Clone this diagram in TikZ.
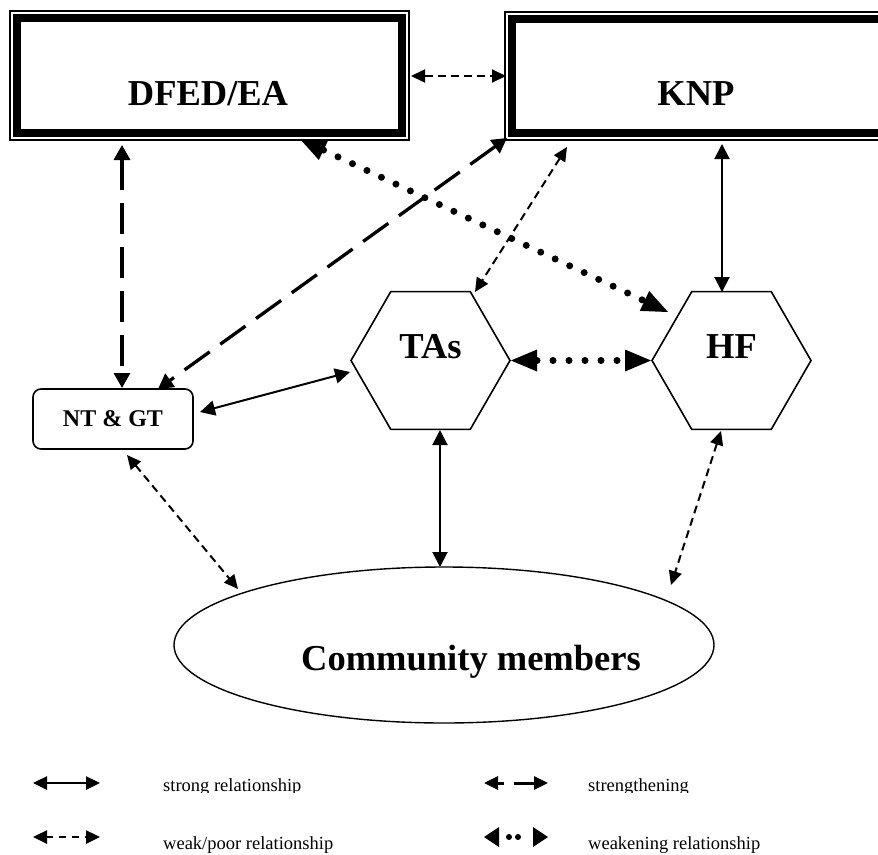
\documentclass[tikz,border=0pt]{standalone}
\usepackage{fontspec}
\setmainfont{Liberation Serif}
\usetikzlibrary{arrows.meta,shapes.geometric,backgrounds}

\tikzset{
  big/.style={font=\fontsize{36.5}{40}\selectfont\bfseries, inner sep=0pt, anchor=base},
  orgbox/.style={draw, line width=8pt, fill=white, inner sep=0pt, outer sep=0pt},
  hexa/.style={draw, line width=1.6pt, fill=white, regular polygon, regular polygon sides=6,
               minimum size=159pt, inner sep=0pt, outer sep=0pt},
  legtext/.style={font=\fontsize{18.5}{21}\selectfont, inner sep=0pt, anchor=base west},
  strong/.style={line width=2pt,
    {Triangle[length=15pt,width=15pt]}-{Triangle[length=15pt,width=15pt]}},
  weak/.style={line width=2pt, dash pattern=on 8pt off 5pt,
    {Triangle[length=14pt,width=13pt]}-{Triangle[length=14pt,width=13pt]}},
  strengthen/.style={line width=3.3pt, dash pattern=on 31pt off 13pt,
    {Triangle[length=15pt,width=16pt]}-{Triangle[length=15pt,width=16pt]}},
  weaken/.style={line width=7pt, line cap=round, dash pattern=on 0pt off 16pt,
    {Triangle[length=26pt,width=22pt,line width=0pt]}-{Triangle[length=26pt,width=22pt,line width=0pt]}},
  keytip/.style={{Triangle[length=14pt,width=13pt]}-{Triangle[length=14pt,width=13pt]}},
}

\begin{document}
\begin{tikzpicture}[x=1pt,y=-1pt]
\useasboundingbox (0,0) rectangle (878,854);
\clip (0,0) rectangle (878,854);

% organisations: thick frame with a thin outer rule
\node[orgbox, minimum width=385pt, minimum height=115pt] (dfed) at (209.5,75.5) {};
\draw[line width=1.2pt] ([shift={(-7,-7)}]dfed.north west) rectangle ([shift={(7,7)}]dfed.south east);
\node[orgbox, minimum width=373pt, minimum height=114pt] (knp) at (698.5,76) {};
\draw[line width=1.2pt] ([shift={(-7,-7)}]knp.north west) rectangle ([shift={(7,7)}]knp.south east);
\node[big] (dfedtxt) at (208,105) {DFED/EA};
\node[big] (knptxt) at (696,105) {KNP};

% local actors
\node[hexa] (tas) at (430.5,360.5) {};
\node[hexa] (hf) at (731.5,360.5) {};
\node[big] (tastxt) at (430.5,358) {TAs};
\node[big] (hftxt) at (731.5,358) {HF};

\node[draw, line width=1.6pt, rounded corners=8pt, fill=white, minimum width=160pt,
      minimum height=60pt, inner sep=0pt, font=\fontsize{24}{28}\selectfont\bfseries]
      (ntgt) at (113,419) {NT \& GT};

\node[draw, ellipse, line width=1.4pt, fill=white, minimum width=540pt,
      minimum height=156pt, inner sep=0pt] (cm) at (444,645) {};
\node[big] (cmtxt) at (471,670) {Community members};

% connector end points
\coordinate (dfedR) at (411,76);
\coordinate (knpL) at (506,76);
\coordinate (dfedB) at (122,145);
\coordinate (ntT) at (122,388);
\coordinate (knpC) at (507,138);
\coordinate (ntTR) at (158,389);
\coordinate (dfedBR) at (300,139);
\coordinate (hfTL) at (668,312);
\coordinate (tasR) at (511,360.5);
\coordinate (hfL) at (651,360.5);
\coordinate (knpB) at (567,147);
\coordinate (tasTR) at (475,292);
\coordinate (knpB2) at (722,144);
\coordinate (hfT) at (722,292);
\coordinate (ntR) at (200,412);
\coordinate (tasL) at (350,372);
\coordinate (tasB) at (440,430);
\coordinate (cmT) at (440,567);
\coordinate (hfB) at (721,431);
\coordinate (cmTR) at (671,585);
\coordinate (ntB) at (127,455);
\coordinate (cmTL) at (238,589);

\begin{scope}[on background layer]
  \fill[white] (0,0) rectangle (878,854);
  \draw[weak] (dfedR) -- (knpL);
  \draw[strengthen] (dfedB) -- (ntT);
  \draw[strengthen] (knpC) -- (ntTR);
  \draw[weaken] (dfedBR) -- (hfTL);
  \draw[weaken] (tasR) -- (hfL);
  \draw[weak] (knpB) -- (tasTR);
  \draw[strong] (knpB2) -- (hfT);
  \draw[strong] (ntR) -- (tasL);
  \draw[strong] (tasB) -- (cmT);
  \draw[weak] (hfB) -- (cmTR);
  \draw[weak] (ntB) -- (cmTL);
\end{scope}

% legend
\coordinate (k1a) at (33,783);  \coordinate (k1b) at (100,783);
\coordinate (k2a) at (484,783); \coordinate (k2b) at (548,783);
\coordinate (k3a) at (33,837);  \coordinate (k3b) at (100,837);
\coordinate (k4a) at (484,837); \coordinate (k4b) at (548,837);
\draw[line width=2.5pt, keytip] (k1a) -- (k1b);
\draw[line width=3pt, dash pattern=on 7pt off 10pt on 30pt off 50pt, keytip] (k2a) -- (k2b);
\draw[line width=2.5pt, dash pattern=on 7pt off 6pt, keytip] (k3a) -- (k3b);
\draw[line width=6pt, line cap=round, dash pattern=on 0pt off 9pt on 0pt off 100pt, dash phase=99pt,
      {Triangle[length=15pt,width=20pt,line width=0pt]}-{Triangle[length=15pt,width=20pt,line width=0pt]}] (k4a) -- (k4b);

\begin{scope}
  \clip (0,760) rectangle (878,792.5);
  \node[legtext] (lt1) at (163,791) {strong relationship};
  \node[legtext] (lt2) at (588,791) {strengthening};
\end{scope}
\node[legtext] (lt3) at (163,849) {weak/poor relationship};
\node[legtext] (lt4) at (588,849) {weakening relationship};
\end{tikzpicture}
\end{document}
